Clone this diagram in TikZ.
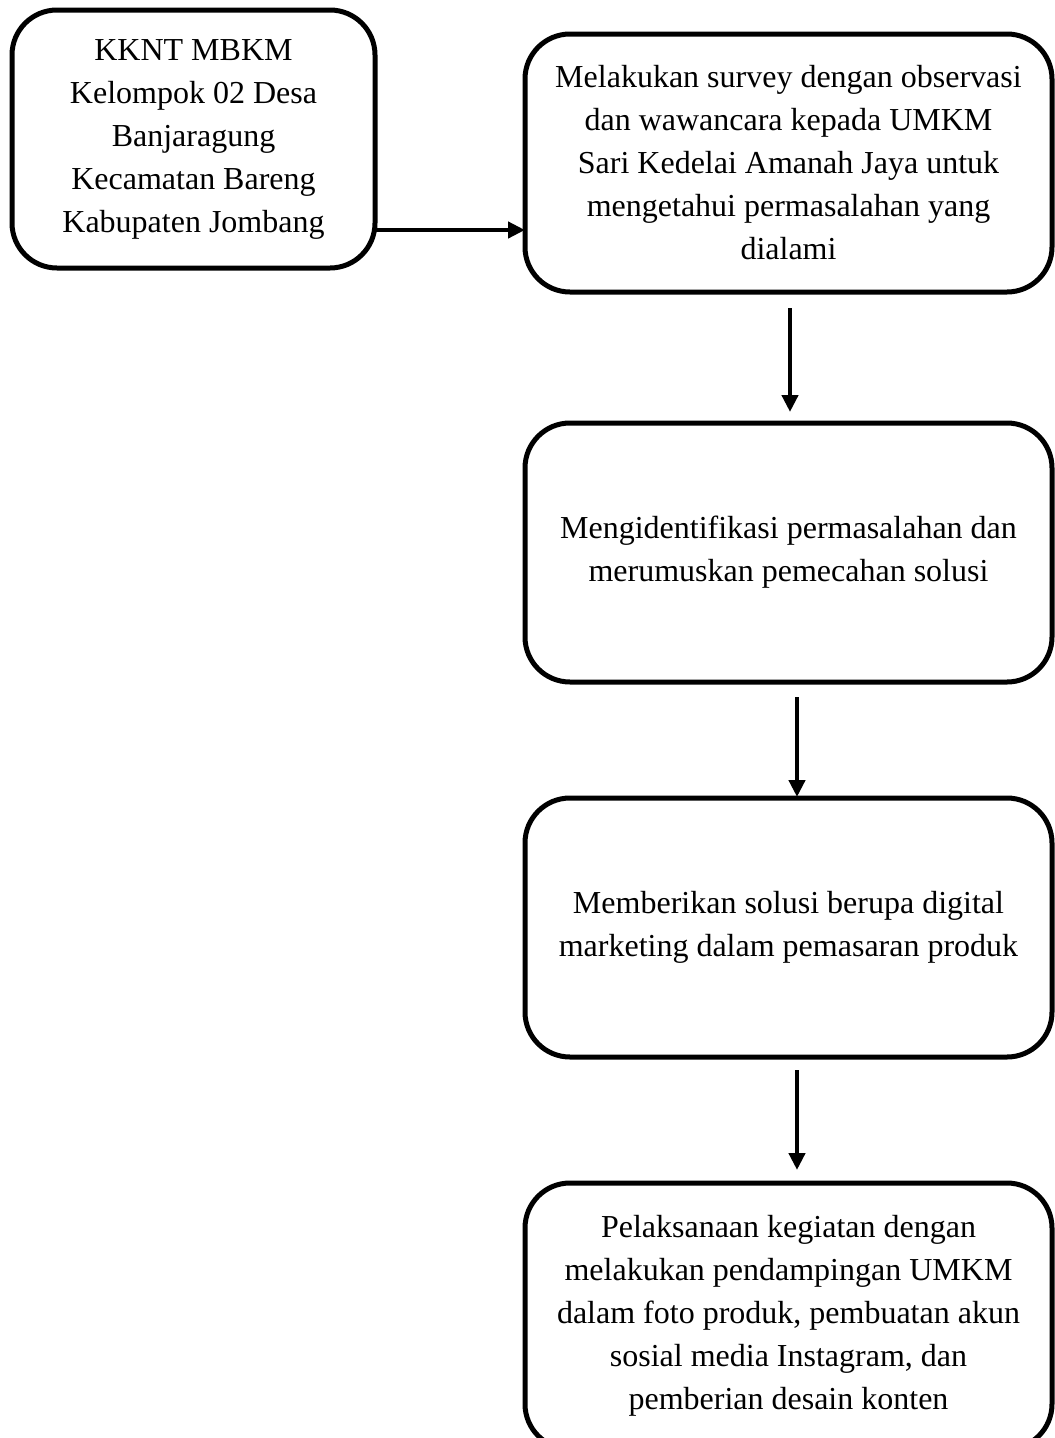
\documentclass[tikz,border=0pt]{standalone}
\usepackage{fontspec}
\setmainfont{Liberation Serif}
\usetikzlibrary{arrows.meta}
\begin{document}
\begin{tikzpicture}[x=1pt,y=-1pt,
  box/.style={draw, line width=5pt, rounded corners=45pt, align=center,
    font=\fontsize{32}{43}\selectfont, inner sep=0pt, outer sep=0pt},
  arr/.style={line width=4.5pt, -{Triangle[width=16pt,length=17pt]}}]
\useasboundingbox (0,0) rectangle (1055,1438);
\node[box, minimum width=363pt, minimum height=258pt] (b1) at (193.5,139)
  {KKNT MBKM\\Kelompok 02 Desa\\Banjaragung\\Kecamatan Bareng\\Kabupaten Jombang};
\node[box, minimum width=527pt, minimum height=258pt] (b2) at (788.5,163)
  {Melakukan survey dengan observasi\\dan wawancara kepada UMKM\\Sari Kedelai Amanah Jaya untuk\\mengetahui permasalahan yang\\dialami};
\node[box, minimum width=527pt, minimum height=259pt] (b3) at (788.5,552.5)
  {Mengidentifikasi permasalahan dan\\merumuskan pemecahan solusi};
\node[box, minimum width=527pt, minimum height=259pt] (b4) at (788.5,927.5)
  {Memberikan solusi berupa digital\\marketing dalam pemasaran produk};
\node[box, minimum width=527pt, minimum height=266pt] (b5) at (788.5,1316)
  {Pelaksanaan kegiatan dengan\\melakukan pendampingan UMKM\\dalam foto produk, pembuatan akun\\sosial media Instagram, dan\\pemberian desain konten};
\coordinate (h1) at (375,230);
\draw[arr] (b1.east |- h1) -- (b2.west |- h1);
\draw[arr] ([xshift=1.5pt,yshift=-16pt]b2.south) -- ([xshift=1.5pt,yshift=11pt]b3.north);
\draw[arr] ([xshift=8.5pt,yshift=-15pt]b3.south) -- ([xshift=8.5pt,yshift=1pt]b4.north);
\draw[arr] ([xshift=8.5pt,yshift=-13pt]b4.south) -- ([xshift=8.5pt,yshift=13pt]b5.north);
\end{tikzpicture}
\end{document}
